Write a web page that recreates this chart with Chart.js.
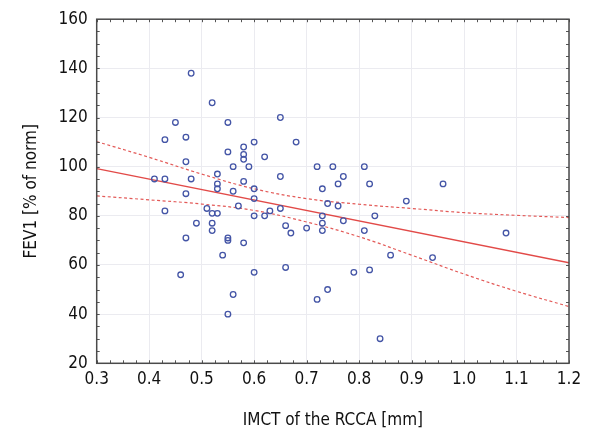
<!DOCTYPE html>
<html>
<head>
  <title>FEV1 vs IMCT</title>
  <script src="https://cdn.jsdelivr.net/npm/chart.js"></script>
  <style>
    body { margin:0; background:#fff; }
    canvas { display:block; }
  </style>
</head>
<body>
  <canvas id="chart" width="600" height="440"></canvas>
  <script>
    // measured points: IMCT of the RCCA [mm] vs FEV1 [% of norm]
    const imct = [0.48,0.52,0.45,0.55,0.65,0.43,0.47,0.60,0.68,0.55,0.58,0.58,0.58,0.62,0.47,0.56,0.59,0.72,
                  0.41,0.43,0.48,0.53,0.65,0.58,0.53,0.53,0.60,0.56,0.60,0.47,0.57,0.43,0.51,0.52,0.53,0.60,
                  0.62,0.63,0.65,0.66,0.67,0.70,0.49,0.52,0.52,0.47,0.55,0.55,0.58,0.54,0.46,0.60,0.66,0.56,
                  0.55,0.72,0.75,0.81,0.77,0.76,0.82,0.96,0.73,0.74,0.76,0.89,0.73,0.83,0.73,0.77,0.73,0.81,
                  0.86,0.94,0.79,0.82,0.74,1.08,0.84];
    const fev1 = [138,126,118,118,120,111,112,110,110,106,108,105,103,104,102,100,100,100,
                  95,95,95,97,96,94,93,91,91,90,87,89,84,82,83,81,81,80,
                  80,82,83,76,73,75,77,77,74,71,71,70,69,64,56,57,59,48,
                  40,46,100,100,96,93,93,93,91,85,84,86,80,80,77,78,74,74,
                  64,63,57,58,50,73,30];

    // regression line and 95% confidence band
    const fitX = [0.3, 1.2];
    const fitY = [99.2, 60.9];
    const bandX = [0.3, 0.4, 0.5, 0.6, 0.7, 0.8, 0.9, 1.0, 1.1, 1.2];
    const bandUpper = [110.2, 103.8, 97.0, 91.0, 87.0, 84.7, 83.0, 81.3, 80.2, 79.3];
    const bandLower = [88.1, 86.5, 84.8, 82.2, 77.5, 71.5, 64.0, 56.3, 49.3, 43.1];

    const xMin = 0.3, xMax = 1.2, xStep = 0.1, xMinor = 0.025;
    const yMin = 20, yMax = 160, yStep = 20, yMinor = 5;

    const pts = (xs, ys) => xs.map((x, i) => ({ x: x, y: ys[i] }));
    const font = { family: "'DejaVu Sans Condensed', 'Roboto Condensed', 'Liberation Sans Narrow', 'Noto Sans'", size: 17 };

    // frame with small inward ticks, like the original
    const frameTicks = {
      id: 'frameTicks',
      afterDraw(chart) {
        const { ctx, chartArea: a, scales: { x, y } } = chart;
        ctx.save();
        ctx.strokeStyle = '#555';
        ctx.lineWidth = 1;
        ctx.beginPath();
        for (let v = xMin; v <= xMax + 1e-9; v += xMinor) {
          const px = Math.round(x.getPixelForValue(v)) + 0.5;
          ctx.moveTo(px, a.top); ctx.lineTo(px, a.top + 3);
          ctx.moveTo(px, a.bottom); ctx.lineTo(px, a.bottom - 3);
        }
        for (let v = yMin; v <= yMax + 1e-9; v += yMinor) {
          const py = Math.round(y.getPixelForValue(v)) + 0.5;
          ctx.moveTo(a.left, py); ctx.lineTo(a.left + 3, py);
          ctx.moveTo(a.right, py); ctx.lineTo(a.right - 3, py);
        }
        ctx.stroke();
        ctx.lineWidth = 1.5;
        ctx.strokeStyle = '#4a4a4a';
        ctx.strokeRect(a.left, a.top, a.right - a.left, a.bottom - a.top);
        ctx.restore();
      }
    };

    new Chart(document.getElementById('chart'), {
      type: 'scatter',
      data: {
        datasets: [
          { data: pts(imct, fev1), pointRadius: 2.8, pointHoverRadius: 2.8, pointBorderWidth: 1.3,
            borderColor: '#4455a6', backgroundColor: 'rgba(0,0,0,0)', order: 0 },
          { data: pts(fitX, fitY), showLine: true, borderColor: '#e24a48', borderWidth: 1.4,
            pointRadius: 0, order: 1 },
          { data: pts(bandX, bandUpper), showLine: true, borderColor: '#e35a58', borderWidth: 1.2,
            borderDash: [3, 2.5], pointRadius: 0, tension: 0.4, order: 2 },
          { data: pts(bandX, bandLower), showLine: true, borderColor: '#e35a58', borderWidth: 1.2,
            borderDash: [3, 2.5], pointRadius: 0, tension: 0.4, order: 2 }
        ]
      },
      options: {
        responsive: false,
        animation: false,
        layout: { padding: { top: 15.7, right: 31, left: 0, bottom: 0 } },
        plugins: { legend: { display: false }, tooltip: { enabled: false } },
        scales: {
          x: {
            min: xMin, max: xMax,
            afterFit: s => { s.height = 76.7; },
            ticks: { stepSize: xStep, padding: 6, color: '#111', font: font,
                     callback: v => v.toFixed(1), maxRotation: 0 },
            grid: { color: '#ebebf0', drawTicks: false },
            border: { display: false },
            title: { display: true, text: 'IMCT of the RCCA [mm]', color: '#111', font: font,
                     padding: { top: 0, bottom: 9 } }
          },
          y: {
            min: yMin, max: yMax,
            afterFit: s => { s.width = 96.7; },
            ticks: { stepSize: yStep, padding: 9, color: '#111', font: font },
            grid: { color: '#ebebf0', drawTicks: false },
            border: { display: false },
            title: { display: true, text: 'FEV1 [% of norm]', color: '#111', font: font,
                     padding: { top: 21, bottom: 0 } }
          }
        }
      },
      plugins: [frameTicks]
    });
  </script>
</body>
</html>
